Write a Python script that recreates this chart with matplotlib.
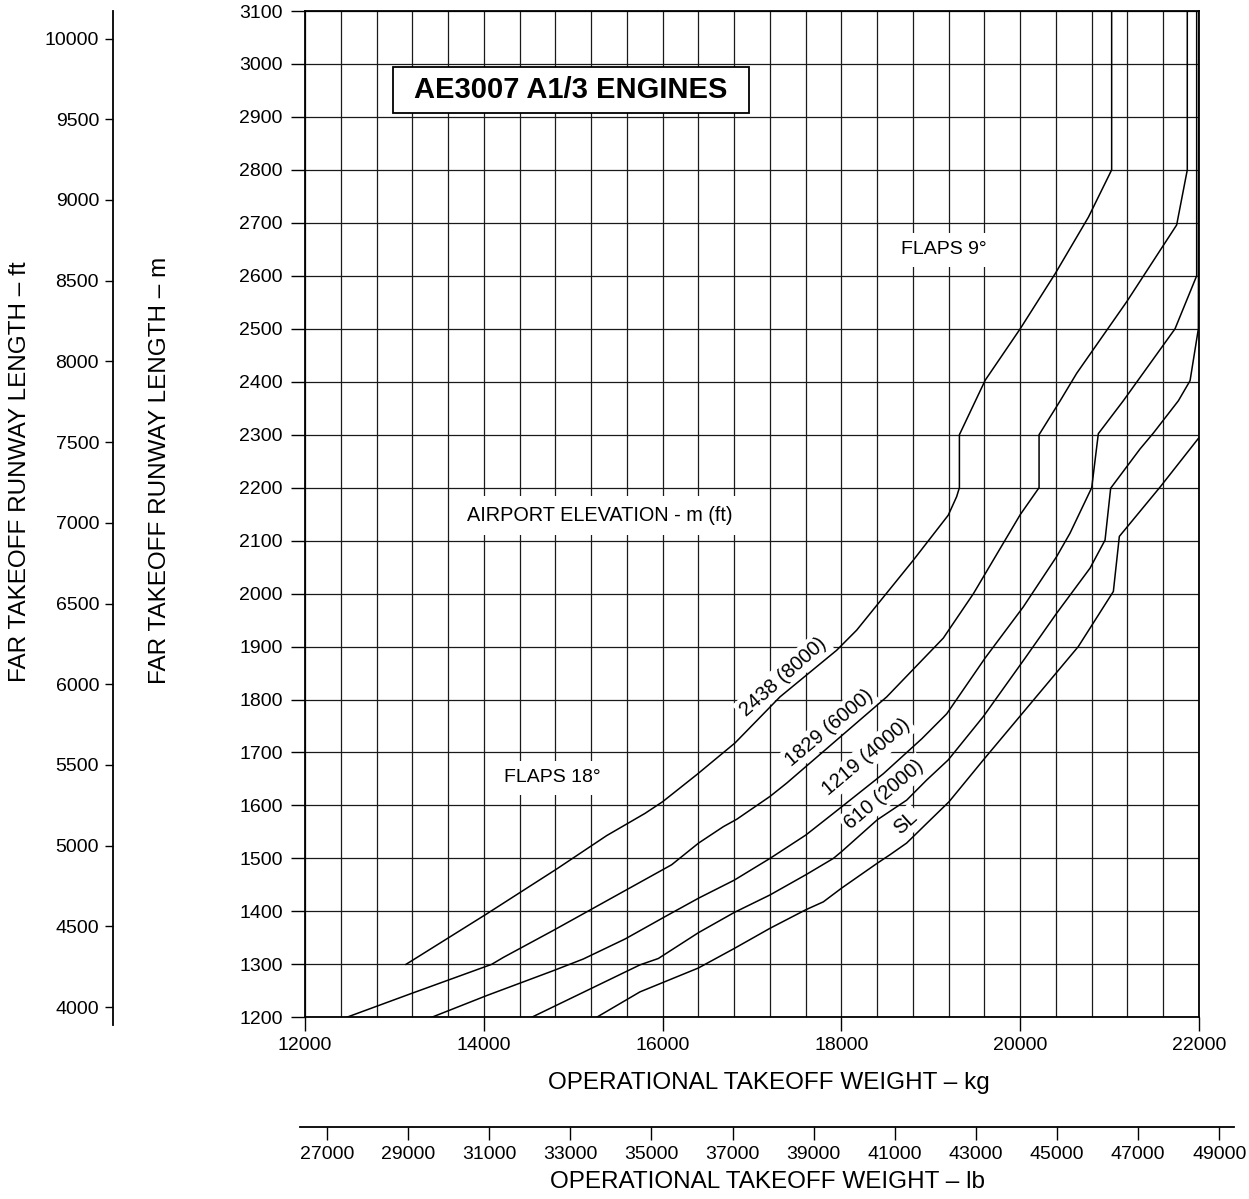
import numpy as np
import matplotlib
matplotlib.use("Agg")
import matplotlib.pyplot as plt
from matplotlib.patches import Rectangle

plt.rcParams['font.family'] = ['Liberation Sans', 'DejaVu Sans']

# ---------------- data (weight kg, runway length m) ----------------
w_8000 = [13130, 14030, 14815, 15374, 15803, 16000, 16381, 16810, 17313, 17947, 18171, 18804,
          19195, 19289, 19320, 19320, 19609, 20000, 20391, 20764, 21023, 21023]
r_8000 = [1300, 1395, 1480, 1543, 1585, 1607, 1658, 1718, 1805, 1893, 1931, 2063,
          2148, 2183, 2200, 2300, 2403, 2500, 2604, 2711, 2800, 3100]

w_6000 = [12466, 13174, 14088, 14218, 14777, 16101, 16403, 16680, 16830, 17201, 17387, 18507,
          19140, 19477, 20000, 20211, 20211, 20447, 20632, 21191, 21750, 21869, 21869]
r_6000 = [1200, 1244, 1300, 1313, 1364, 1488, 1529, 1560, 1574, 1617, 1642, 1805,
          1916, 2000, 2149, 2200, 2300, 2364, 2416, 2551, 2696, 2800, 3100]

w_4000 = [13417, 14032, 14777, 15112, 15582, 16048, 16403, 16802, 17201, 17601, 17910, 18470,
          18900, 19178, 19606, 20035, 20408, 20557, 20800, 20874, 21153, 21732, 21974, 21974]
r_4000 = [1200, 1241, 1288, 1310, 1348, 1392, 1425, 1459, 1500, 1544, 1585, 1660,
          1726, 1773, 1878, 1975, 2070, 2114, 2200, 2302, 2364, 2500, 2600, 3100]

w_2000 = [14535, 15747, 15952, 16403, 16802, 17201, 17601, 17910, 18003, 18402, 18730, 18954,
          19195, 19588, 20054, 20408, 20781, 20949, 21012, 21340, 21489, 21769, 21900, 21993, 22000]
r_2000 = [1200, 1299, 1311, 1360, 1398, 1431, 1469, 1500, 1513, 1573, 1610, 1648,
          1686, 1768, 1878, 1963, 2048, 2101, 2199, 2273, 2303, 2364, 2402, 2500, 3100]

w_sl = [15262, 15747, 16399, 16802, 17201, 17601, 17798, 18003, 18402, 18544, 18730, 18954,
        19204, 19588, 20650, 21042, 21109, 21564, 21993]
r_sl = [1200, 1248, 1293, 1330, 1368, 1403, 1418, 1444, 1491, 1507, 1529, 1566,
        1607, 1686, 1900, 2004, 2108, 2201, 2293]

curve_labels = ["2438 (8000)", "1829 (6000)", "1219 (4000)", "610 (2000)", "SL"]

x_ticks_kg = [12000, 14000, 16000, 18000, 20000, 22000]
y_ticks_m = list(range(1200, 3101, 100))
y_ticks_ft = list(range(4000, 10001, 500))
x_ticks_lb = list(range(27000, 49001, 2000))

M2FT = 3.28084
KG2LB = 1 / 0.45359237

# ---------------- figure ----------------
W, H = 1249, 1199
fig = plt.figure(figsize=(W / 100, H / 100), dpi=100)

ax_l, ax_r, ax_t, ax_b = 305, 1199, 11, 1017.3
ax = fig.add_axes([ax_l / W, 1 - ax_b / H, (ax_r - ax_l) / W, (ax_b - ax_t) / H])
ax.set_xlim(12000, 22000)
ax.set_ylim(1200, 3100)

ax.set_xticks(x_ticks_kg)
ax.set_xticks(np.arange(12000, 22001, 400), minor=True)
ax.set_yticks(y_ticks_m)
ax.tick_params(axis='x', which='major', length=10, width=1.0, pad=4, labelsize=14, direction='out')
ax.tick_params(axis='x', which='minor', length=0)
ax.tick_params(axis='y', which='major', length=10, width=1.0, pad=6, labelsize=14, direction='out')
ax.grid(True, which='both', color='#1a1a1a', lw=0.9, zorder=1)
ax.set_axisbelow(True)
for s in ax.spines.values():
    s.set_linewidth(1.3)

lc = 'black'
for w, r in [(w_8000, r_8000), (w_6000, r_6000), (w_4000, r_4000), (w_2000, r_2000), (w_sl, r_sl)]:
    ax.plot(w, r, color=lc, lw=1.1, zorder=5, clip_on=True)

box = dict(boxstyle='square,pad=0.15', fc='white', ec='none')
label_pos = [(17347, 1843, 41.5), (17861, 1746, 40), (18275, 1691, 40), (18477, 1621, 40), (18723, 1568, 42)]
for txt, (x, y, a) in zip(curve_labels, label_pos):
    ax.text(x, y, txt, rotation=a, rotation_mode='anchor', ha='center', va='center',
            fontsize=14.5, bbox=box, zorder=3)

ax.text(15300, 2147, "AIRPORT ELEVATION - m (ft)", ha='center', va='center', fontsize=14.3,
        bbox=dict(boxstyle='square,pad=0.5', fc='white', ec='none'), zorder=3)
ax.text(19148, 2649, "FLAPS 9°", ha='center', va='center', fontsize=14,
        bbox=dict(boxstyle='square,pad=0.45', fc='white', ec='none'), zorder=3)
ax.text(14763, 1652, "FLAPS 18°", ha='center', va='center', fontsize=14,
        bbox=dict(boxstyle='square,pad=0.45', fc='white', ec='none'), zorder=3)

ax.add_patch(Rectangle((12981, 2907), 16970 - 12981, 2994 - 2907, fc='white', ec='black',
                       lw=1.3, zorder=4))
ax.text(14975, 2950, "AE3007 A1/3 ENGINES", ha='center', va='center', fontsize=21,
        fontweight='bold', zorder=5)

# ---------------- ft axis ----------------
ft_x, ft_top, ft_bot = 113, 11, 1025
px_per_m = (ax_b - ax_t) / 1900.0
m_bot = 1200 - (ft_bot - ax_b) / px_per_m
axf = fig.add_axes([ft_x / W, 1 - ft_bot / H, 0.0001, (ft_bot - ft_top) / H])
axf.set_ylim(m_bot * M2FT, 3100 * M2FT)
axf.set_xticks([])
axf.set_yticks(y_ticks_ft)
for k in ['top', 'bottom', 'right']:
    axf.spines[k].set_visible(False)
axf.spines['left'].set_linewidth(1.3)
axf.patch.set_visible(False)
axf.tick_params(axis='y', length=6, width=1.0, pad=4, labelsize=14)

# ---------------- lb axis ----------------
lb_l, lb_r, lb_y = 300, 1234, 1126.5
kg_per_px = 10000.0 / (ax_r - ax_l)
axl = fig.add_axes([lb_l / W, 1 - lb_y / H, (lb_r - lb_l) / W, 0.0001])
axl.set_xlim((12000 + (lb_l - ax_l) * kg_per_px) * KG2LB, (12000 + (lb_r - ax_l) * kg_per_px) * KG2LB)
axl.set_yticks([])
axl.set_xticks(x_ticks_lb)
for k in ['top', 'left', 'right']:
    axl.spines[k].set_visible(False)
axl.spines['bottom'].set_linewidth(1.3)
axl.patch.set_visible(False)
axl.tick_params(axis='x', length=9, width=1.0, pad=5, labelsize=14)

# ---------------- axis titles ----------------
fig.text(769 / W, 1 - 1083 / H, "OPERATIONAL TAKEOFF WEIGHT – kg", ha='center', va='center', fontsize=17.5)
fig.text(767 / W, 1 - 1182 / H, "OPERATIONAL TAKEOFF WEIGHT – lb", ha='center', va='center', fontsize=17.5)
fig.text(20 / W, 1 - 472 / H, "FAR TAKEOFF RUNWAY LENGTH – ft", ha='center', va='center',
         rotation=90, fontsize=17.5)
fig.text(160 / W, 1 - 470 / H, "FAR TAKEOFF RUNWAY LENGTH – m", ha='center', va='center',
         rotation=90, fontsize=17.5)

fig.savefig("out.png", dpi=100)
